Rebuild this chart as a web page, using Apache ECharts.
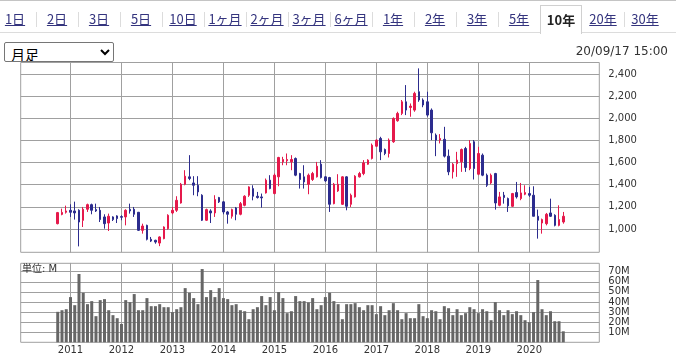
<!DOCTYPE html>
<html><head><meta charset="utf-8">
<script src="https://cdn.jsdelivr.net/npm/echarts@6/dist/echarts.min.js"></script>
<style>
html,body{margin:0;padding:0;width:676px;height:356px;overflow:hidden;background:#fff;}
#chart{position:absolute;left:0;top:0;width:676px;height:356px;}
#tabs{position:absolute;left:0;top:0;width:676px;height:33px;border-top:1px solid #c4c4c4;border-bottom:1px solid #dcdcdc;box-sizing:border-box;font-family:"Noto Sans CJK JP",sans-serif;}
.tab{position:absolute;top:4px;width:42px;height:28px;line-height:28px;text-align:center;font-size:13px;color:#34347e;}
.tab span{text-decoration:underline;}
.tab.sel{background:#fff;border:1px solid #d0d0d0;border-bottom:none;box-sizing:border-box;height:29px;line-height:27px;color:#222;font-weight:bold;}
.tab.sel span{text-decoration:none;}
.sep{position:absolute;top:11px;width:1px;height:15px;background:#dcdcdc;}
#sel{position:absolute;left:4px;top:42px;width:110px;height:20px;font-size:14px;font-family:"Noto Sans CJK JP",sans-serif;padding:0 2px;margin:0;border:1px solid #767676;border-radius:2px;background:#fff;color:#000;}
#date{position:absolute;right:8px;top:44px;line-height:14px;font-size:12px;font-family:"DejaVu Sans",sans-serif;color:#333;}
</style>
</head><body>
<div id="chart"></div>
<div id="tabs"></div>
<select id="sel"><option>月足</option></select>
<div id="date">20/09/17 15:00</div>
<script>
// ---- data ----
const tabLabels = ['1日','2日','3日','5日','10日','1ヶ月','2ヶ月','3ヶ月','6ヶ月','1年','2年','3年','5年','10年','20年','30年'];
const selectedTab = '10年';
const startYear = 2010, startMonth = 10; // first monthly candle: 2010/10
const yearLabels = ['2011','2012','2013','2014','2015','2016','2017','2018','2019','2020'];
const priceTicks = [1000,1200,1400,1600,1800,2000,2200,2400];
const volumeTicks = [10,20,30,40,50,60,70];
const openV = [1048,1132,1151,1169,1163,1169,1078,1178,1220,1175,1169,1109,1054,1109,1118,1112,1109,1178,1178,1151,
 988,1033,907,898,873,913,1003,1145,1169,1235,1404,1471,1416,1395,1305,1079,1163,1145,1284,1245,
 1154,1115,1190,1133,1214,1305,1365,1296,1290,1326,1441,1320,1471,1607,1616,1607,1637,1501,1471,1404,
 1447,1471,1586,1471,1465,1229,1344,1223,1471,1223,1290,1471,1501,1585,1637,1748,1818,1718,1682,1788,
 1978,2044,2149,2098,2074,2240,2165,2149,2074,1848,1803,1810,1658,1516,1591,1607,1727,1546,1788,1495,
 1667,1486,1416,1501,1214,1305,1275,1205,1329,1275,1314,1320,1305,1115,1054,1048,1145,1124,1033,1063];
const closeV = [1148,1150,1163,1151,1145,1063,1178,1220,1169,1163,1085,1048,1115,1085,1094,1106,1169,1163,1133,988,
 1027,907,891,882,928,1018,1124,1169,1259,1404,1477,1456,1395,1335,1079,1175,1145,1266,1245,1154,
 1133,1175,1133,1229,1296,1380,1296,1284,1281,1441,1365,1486,1646,1628,1628,1628,1486,1447,1425,1486,
 1501,1567,1465,1435,1223,1404,1404,1471,1205,1305,1477,1501,1597,1622,1757,1803,1697,1682,1803,1999,
 2044,2149,2074,2110,2225,2165,2120,2029,1869,1803,1818,1658,1516,1585,1622,1718,1555,1772,1546,1682,
 1486,1395,1486,1235,1290,1284,1209,1320,1290,1326,1329,1305,1115,1079,1085,1133,1115,1033,1085,1115];
const lowV = [1042,1124,1139,1109,1085,843,1018,1154,1133,1154,1063,1003,982,1072,1054,1079,1033,1139,1109,982,
 958,897,882,867,845,907,994,1133,1154,1229,1395,1441,1305,1296,1072,1072,1054,1109,1235,1133,
 1048,1094,1079,1124,1205,1290,1259,1275,1193,1320,1359,1314,1386,1576,1576,1531,1477,1365,1365,1314,
 1434,1465,1456,1425,1154,1223,1335,1217,1169,1199,1284,1465,1486,1580,1628,1740,1622,1667,1646,1778,
 1969,2029,2029,2014,2059,2149,2100,2014,1803,1658,1773,1646,1486,1456,1471,1516,1516,1531,1447,1486,
 1477,1380,1404,1175,1205,1229,1154,1199,1275,1260,1305,1290,1115,913,958,1033,1109,1024,1024,1048];
const highV = [1154,1184,1211,1223,1247,1178,1199,1229,1229,1229,1199,1133,1139,1115,1124,1124,1178,1229,1199,1154,
 1048,1039,928,903,934,1024,1133,1199,1296,1416,1531,1667,1477,1477,1314,1184,1178,1305,1290,1253,
 1163,1184,1199,1244,1305,1386,1395,1335,1320,1456,1486,1501,1652,1652,1682,1667,1646,1507,1576,1501,
 1516,1606,1622,1477,1471,1416,1495,1477,1477,1320,1486,1516,1622,1630,1772,1810,1833,1727,1818,2008,
 2059,2165,2300,2134,2240,2451,2180,2240,2089,1863,1857,1923,1718,1597,1697,1727,1742,1803,1803,1742,
 1682,1501,1501,1507,1335,1335,1284,1326,1425,1416,1395,1380,1386,1175,1094,1145,1274,1133,1214,1154];
const volumeV = [30.2,31.8,32.8,44.8,36.8,67.7,49.1,37.8,40.8,25.9,41.8,42.8,31.8,26.9,23.9,18.2,41.8,39.8,47.8,31.8,
 31.8,43.8,35.8,35.8,37.8,34.8,34.8,29.9,32.8,34.8,53.7,49.1,43.8,37.8,72.6,44.8,51.7,44.8,53.7,43.8,
 42.8,36.8,37.8,31.8,30.8,22.9,32.8,34.8,45.8,36.8,44.8,31.8,49.8,43.8,28.9,30.8,45.8,40.8,40.8,39.5,
 43.8,32.8,36.8,44.8,49.1,40.8,37.8,22.9,37.8,37.8,38.8,34.8,31.8,36.8,36.8,27.9,35.8,26.9,31.8,38.8,
 31.8,22.9,28.9,23.9,23.9,37.8,25.9,23.9,31.8,30.8,22.9,35.8,33.8,26.9,32.8,26.9,28.9,34.8,32.8,28.9,
 32.8,30.8,21.9,39.8,31.8,26.9,31.8,27.9,30.8,26.9,21.9,19.9,29.9,61.7,32.8,26.9,30.8,20.9,20.9,10.9];

// ---- tabs (HTML) ----
const tabsEl = document.getElementById('tabs');
tabLabels.forEach((t, k) => {
  const d = document.createElement('div');
  d.className = 'tab' + (t === selectedTab ? ' sel' : '');
  d.style.left = (-6 + 42 * k) + 'px';
  d.innerHTML = '<span>' + t + '</span>';
  tabsEl.appendChild(d);
  if (k < tabLabels.length - 1 && t !== selectedTab && tabLabels[k + 1] !== selectedTab) {
    const s = document.createElement('div');
    s.className = 'sep';
    s.style.left = (36 + 42 * k) + 'px';
    tabsEl.appendChild(s);
  }
});

// ---- chart ----
// x = months since 2011/01
const firstX = (startYear - 2011) * 12 + (startMonth - 1);
const candleData = openV.map((o, i) => [firstX + i, o, closeV[i], lowV[i], highV[i]]);
const volData = volumeV.map((v, i) => [firstX + i, v]);
const yearTickX = yearLabels.map(y => (parseInt(y, 10) - 2011) * 12);

const UP = '#e5194b', DOWN = '#2c2c8e', GRID = '#a0a0a0', TXT = '#333';
const FONT = 'DejaVu Sans';

const chart = echarts.init(document.getElementById('chart'), null, {renderer: 'canvas'});
const xCommon = {
  type: 'value', min: -11.72, max: 124.48,
  axisLine: {show: false}, axisTick: {show: false, customValues: yearTickX},
  splitLine: {show: true, lineStyle: {color: GRID, width: 1}}
};
chart.setOption({
  animation: false,
  grid: [
    {left: 20.7, right: 76.7, top: 62.5, height: 189.8, show: true, borderColor: GRID, borderWidth: 1, backgroundColor: 'transparent'},
    {left: 20.7, right: 76.7, top: 263.3, height: 79, show: true, borderColor: GRID, borderWidth: 1, backgroundColor: 'transparent'}
  ],
  xAxis: [
    Object.assign({}, xCommon, {gridIndex: 0, axisLabel: {show: false, customValues: yearTickX}}),
    Object.assign({}, xCommon, {gridIndex: 1, axisLabel: {show: true, customValues: yearTickX, margin: 3,
      color: TXT, fontSize: 10, fontFamily: FONT,
      formatter: v => yearLabels[yearTickX.indexOf(v)] || ''}})
  ],
  yAxis: [
    {type: 'value', gridIndex: 0, position: 'right', min: 789.5, max: 2504, scale: true,
     axisLine: {show: true, lineStyle: {color: GRID}},
     axisTick: {show: true, length: 5, customValues: priceTicks, lineStyle: {color: GRID}},
     axisLabel: {customValues: priceTicks, margin: 9, color: TXT, fontSize: 10, fontFamily: FONT,
       formatter: v => v.toLocaleString('en-US')},
     splitLine: {show: true, lineStyle: {color: GRID}}},
    {type: 'value', gridIndex: 1, position: 'right', min: 0, max: 78.3,
     axisLine: {show: true, lineStyle: {color: GRID}},
     axisTick: {show: true, length: 5, customValues: volumeTicks, lineStyle: {color: GRID}},
     axisLabel: {customValues: volumeTicks, margin: 9, color: TXT, fontSize: 10, fontFamily: FONT,
       formatter: v => v + 'M'},
     splitLine: {show: true, lineStyle: {color: GRID}}}
  ],
  graphic: [{type: 'text', left: 22, top: 264.5, z: 100,
    style: {text: '単位: M', fontSize: 10, fontFamily: 'DejaVu Sans, Noto Sans CJK JP', fill: TXT}}],
  series: [
    {type: 'candlestick', xAxisIndex: 0, yAxisIndex: 0, data: candleData,
     encode: {x: 0, y: [1, 2, 3, 4]}, barWidth: 2,
     itemStyle: {color: UP, color0: DOWN, borderColor: UP, borderColor0: DOWN, borderWidth: 1}},
    {type: 'bar', xAxisIndex: 1, yAxisIndex: 1, data: volData, barWidth: 3,
     itemStyle: {color: '#666666'}}
  ]
});
</script>
</body></html>
